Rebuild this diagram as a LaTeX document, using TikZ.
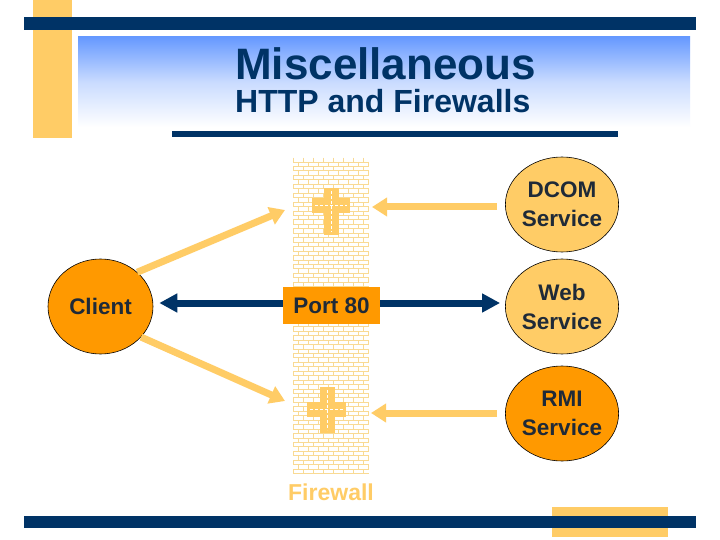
\documentclass[tikz,border=0pt]{standalone}
\usepackage{fontspec}
\setmainfont{Liberation Sans}
\usetikzlibrary{shapes.geometric,arrows.meta}
\definecolor{navy}{HTML}{003366}
\definecolor{txt}{HTML}{1F2A38}
\definecolor{orng}{HTML}{FF9900}
\definecolor{lite}{HTML}{FFCC66}
\definecolor{brick}{HTML}{F9DA94}
\definecolor{skyb}{HTML}{6699FF}
\tikzset{
  svc/.style={ellipse, draw=black, line width=0.6pt, minimum width=105pt, minimum height=95pt, inner sep=0pt,
    font=\bfseries\fontsize{22.5}{29}\selectfont, text=txt, align=center},
  litearrow/.style={draw=lite, line width=7pt, -{Triangle[width=18pt,length=15pt]}},
  navyarrow/.style={draw=navy, line width=7pt, -{Triangle[width=18pt,length=18pt]}},
  crossfill/.style={fill=lite, draw=none},
  crossdash/.style={draw=white, line width=1pt, dash pattern=on 3pt off 2pt},
}
\begin{document}
\begin{tikzpicture}[x=1pt,y=-1pt]
\useasboundingbox (0,0) rectangle (720,540);
\fill[white] (0,0) rectangle (720,540);
% header
\fill[lite] (33,0) rectangle (72,138);
\shade[top color=skyb, bottom color=white, middle color=skyb!35] (78,37) rectangle (690,127);
\fill[navy] (24,17) rectangle (696,30);
\fill[navy] (172,131) rectangle (618,137);
\node[anchor=base west, text=navy, font=\bfseries\fontsize{44}{44}\selectfont, inner sep=0pt] (title) at (235,80) {Miscellaneous};
\node[anchor=base west, text=navy, font=\bfseries\fontsize{32}{32}\selectfont, inner sep=0pt] (subtitle) at (235,113) {HTTP and Firewalls};
% footer
\fill[lite] (552,507) rectangle (668,537);
\fill[navy] (24,516) rectangle (696,528);
% firewall bricks
\begin{scope}
\clip (293,158) rectangle (369,475);
\foreach \i in {0,...,70} {
  \pgfmathsetmacro\yy{162+4.45*\i}
  \draw[brick, line width=0.8pt] (293,\yy) -- (369,\yy);
  \pgfmathsetmacro\off{mod(\i,2)*5}
  \foreach \k in {0,...,8} {
    \draw[brick, line width=0.8pt] (293+\off+10*\k,\yy-4.45) -- (293+\off+10*\k,\yy);
  }
}
\end{scope}
% crosses
\fill[crossfill] (323.5,188) rectangle (338.5,235);
\fill[crossfill] (312,198) rectangle (350,213);
\draw[crossdash] (331,191) -- (331,232);
\draw[crossdash] (315,205.5) -- (347,205.5);
\fill[crossfill] (319.5,387) rectangle (334.5,433);
\fill[crossfill] (307,402) rectangle (346,417);
\draw[crossdash] (327,390) -- (327,430);
\draw[crossdash] (310,409.5) -- (343,409.5);
\node[text=lite, font=\bfseries\fontsize{23}{23}\selectfont, anchor=base, inner sep=0pt] (fwlabel) at (331,500) {Firewall};
% nodes
\node[svc, fill=orng] (client) at (100.5,306.5) {Client};
\node[svc, fill=lite] (dcom) at (562,204.5) {DCOM\\Service};
\node[svc, fill=lite] (web) at (562,306.5) {Web\\Service};
\node[svc, fill=orng] (rmi) at (562,413.5) {RMI\\Service};
\node[fill=orng, minimum width=97pt, minimum height=37pt, inner sep=0pt, text=txt,
  font=\bfseries\fontsize{22.5}{22.5}\selectfont] (port) at (331.5,305.5) {Port 80};
% free ends at the firewall
\coordinate (fwtop) at (285,210);
\coordinate (fwbot) at (285,401);
\coordinate (fwdcom) at (372,207);
\coordinate (fwrmi) at (371,413);
% connectors
\draw[litearrow] (client.43) -- (fwtop);
\draw[litearrow] (client.-37) -- (fwbot);
\draw[litearrow, shorten <=8pt] (dcom.west |- fwdcom) -- (fwdcom);
\draw[litearrow, shorten <=8pt] (rmi.west |- fwrmi) -- (fwrmi);
\draw[navyarrow, shorten >=6pt] ([yshift=2.5pt]port.west) -- ([yshift=2.5pt]port.west -| client.east);
\draw[navyarrow, shorten >=5pt] ([yshift=2.5pt]port.east) -- ([yshift=2.5pt]port.east -| web.west);
\end{tikzpicture}
\end{document}
